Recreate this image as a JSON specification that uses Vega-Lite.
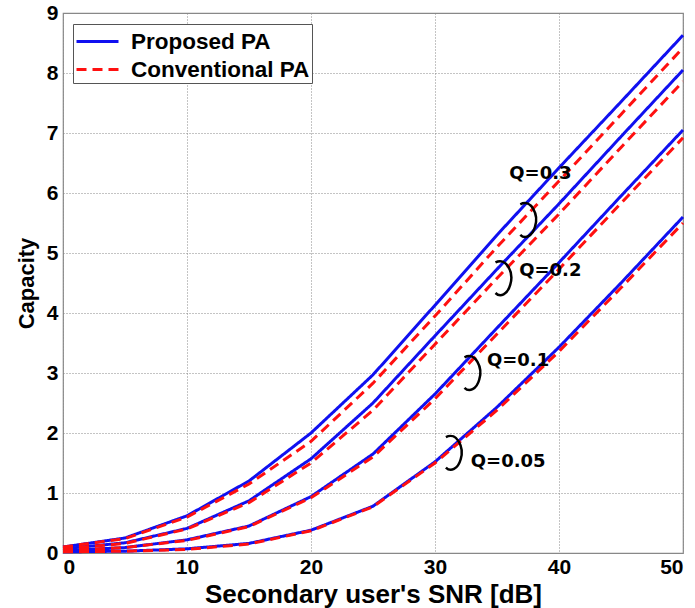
{
  "$schema": "https://vega.github.io/schema/vega-lite/v6.json",
  "width": 620,
  "height": 540,
  "autosize": {"type": "none"},
  "padding": {"left": 63, "top": 13, "right": 12, "bottom": 55},
  "background": "white",
  "config": {
    "view": {"stroke": "#888888", "strokeWidth": 1.2},
    "font": "Liberation Sans",
    "axis": {
      "grid": true,
      "gridColor": "#888888",
      "gridDash": [1, 2],
      "gridWidth": 1,
      "domain": false,
      "ticks": false,
      "labelFont": "Liberation Sans",
      "labelFontSize": 21,
      "labelFontWeight": "bold",
      "labelColor": "black",
      "titleFont": "Liberation Sans",
      "titleFontWeight": "bold",
      "titleColor": "black"
    },
    "legend": {
      "labelFont": "Liberation Sans",
      "labelFontSize": 22.5,
      "labelFontWeight": "bold",
      "labelColor": "black",
      "labelLimit": 400,
      "symbolType": "M -1.5 0 L 1.5 0",
      "symbolSize": 784,
      "symbolStrokeWidth": 3,
      "symbolOffset": 7,
      "strokeColor": "#555555",
      "fillColor": "white",
      "padding": 2,
      "rowPadding": 1,
      "labelOffset": 18
    }
  },
  "datasets": {
    "curves": [
      {"snr": 0, "cap": 0.10, "Q": "0.3", "method": "Proposed PA"},
      {"snr": 5, "cap": 0.25, "Q": "0.3", "method": "Proposed PA"},
      {"snr": 10, "cap": 0.62, "Q": "0.3", "method": "Proposed PA"},
      {"snr": 15, "cap": 1.20, "Q": "0.3", "method": "Proposed PA"},
      {"snr": 20, "cap": 2.00, "Q": "0.3", "method": "Proposed PA"},
      {"snr": 25, "cap": 2.97, "Q": "0.3", "method": "Proposed PA"},
      {"snr": 30, "cap": 4.13, "Q": "0.3", "method": "Proposed PA"},
      {"snr": 35, "cap": 5.30, "Q": "0.3", "method": "Proposed PA"},
      {"snr": 40, "cap": 6.42, "Q": "0.3", "method": "Proposed PA"},
      {"snr": 45, "cap": 7.52, "Q": "0.3", "method": "Proposed PA"},
      {"snr": 50, "cap": 8.63, "Q": "0.3", "method": "Proposed PA"},
      {"snr": 0, "cap": 0.10, "Q": "0.3", "method": "Conventional PA"},
      {"snr": 5, "cap": 0.24, "Q": "0.3", "method": "Conventional PA"},
      {"snr": 10, "cap": 0.60, "Q": "0.3", "method": "Conventional PA"},
      {"snr": 15, "cap": 1.15, "Q": "0.3", "method": "Conventional PA"},
      {"snr": 20, "cap": 1.86, "Q": "0.3", "method": "Conventional PA"},
      {"snr": 25, "cap": 2.83, "Q": "0.3", "method": "Conventional PA"},
      {"snr": 30, "cap": 3.95, "Q": "0.3", "method": "Conventional PA"},
      {"snr": 35, "cap": 5.10, "Q": "0.3", "method": "Conventional PA"},
      {"snr": 40, "cap": 6.20, "Q": "0.3", "method": "Conventional PA"},
      {"snr": 45, "cap": 7.31, "Q": "0.3", "method": "Conventional PA"},
      {"snr": 50, "cap": 8.42, "Q": "0.3", "method": "Conventional PA"},
      {"snr": 0, "cap": 0.07, "Q": "0.2", "method": "Proposed PA"},
      {"snr": 5, "cap": 0.17, "Q": "0.2", "method": "Proposed PA"},
      {"snr": 10, "cap": 0.41, "Q": "0.2", "method": "Proposed PA"},
      {"snr": 15, "cap": 0.87, "Q": "0.2", "method": "Proposed PA"},
      {"snr": 20, "cap": 1.57, "Q": "0.2", "method": "Proposed PA"},
      {"snr": 25, "cap": 2.50, "Q": "0.2", "method": "Proposed PA"},
      {"snr": 30, "cap": 3.62, "Q": "0.2", "method": "Proposed PA"},
      {"snr": 35, "cap": 4.73, "Q": "0.2", "method": "Proposed PA"},
      {"snr": 40, "cap": 5.82, "Q": "0.2", "method": "Proposed PA"},
      {"snr": 45, "cap": 6.94, "Q": "0.2", "method": "Proposed PA"},
      {"snr": 50, "cap": 8.05, "Q": "0.2", "method": "Proposed PA"},
      {"snr": 0, "cap": 0.07, "Q": "0.2", "method": "Conventional PA"},
      {"snr": 5, "cap": 0.16, "Q": "0.2", "method": "Conventional PA"},
      {"snr": 10, "cap": 0.40, "Q": "0.2", "method": "Conventional PA"},
      {"snr": 15, "cap": 0.84, "Q": "0.2", "method": "Conventional PA"},
      {"snr": 20, "cap": 1.50, "Q": "0.2", "method": "Conventional PA"},
      {"snr": 25, "cap": 2.38, "Q": "0.2", "method": "Conventional PA"},
      {"snr": 30, "cap": 3.48, "Q": "0.2", "method": "Conventional PA"},
      {"snr": 35, "cap": 4.58, "Q": "0.2", "method": "Conventional PA"},
      {"snr": 40, "cap": 5.65, "Q": "0.2", "method": "Conventional PA"},
      {"snr": 45, "cap": 6.76, "Q": "0.2", "method": "Conventional PA"},
      {"snr": 50, "cap": 7.86, "Q": "0.2", "method": "Conventional PA"},
      {"snr": 0, "cap": 0.04, "Q": "0.1", "method": "Proposed PA"},
      {"snr": 5, "cap": 0.09, "Q": "0.1", "method": "Proposed PA"},
      {"snr": 10, "cap": 0.22, "Q": "0.1", "method": "Proposed PA"},
      {"snr": 15, "cap": 0.45, "Q": "0.1", "method": "Proposed PA"},
      {"snr": 20, "cap": 0.94, "Q": "0.1", "method": "Proposed PA"},
      {"snr": 25, "cap": 1.65, "Q": "0.1", "method": "Proposed PA"},
      {"snr": 30, "cap": 2.65, "Q": "0.1", "method": "Proposed PA"},
      {"snr": 35, "cap": 3.75, "Q": "0.1", "method": "Proposed PA"},
      {"snr": 40, "cap": 4.84, "Q": "0.1", "method": "Proposed PA"},
      {"snr": 45, "cap": 5.95, "Q": "0.1", "method": "Proposed PA"},
      {"snr": 50, "cap": 7.05, "Q": "0.1", "method": "Proposed PA"},
      {"snr": 0, "cap": 0.04, "Q": "0.1", "method": "Conventional PA"},
      {"snr": 5, "cap": 0.09, "Q": "0.1", "method": "Conventional PA"},
      {"snr": 10, "cap": 0.21, "Q": "0.1", "method": "Conventional PA"},
      {"snr": 15, "cap": 0.44, "Q": "0.1", "method": "Conventional PA"},
      {"snr": 20, "cap": 0.92, "Q": "0.1", "method": "Conventional PA"},
      {"snr": 25, "cap": 1.60, "Q": "0.1", "method": "Conventional PA"},
      {"snr": 30, "cap": 2.57, "Q": "0.1", "method": "Conventional PA"},
      {"snr": 35, "cap": 3.65, "Q": "0.1", "method": "Conventional PA"},
      {"snr": 40, "cap": 4.73, "Q": "0.1", "method": "Conventional PA"},
      {"snr": 45, "cap": 5.83, "Q": "0.1", "method": "Conventional PA"},
      {"snr": 50, "cap": 6.92, "Q": "0.1", "method": "Conventional PA"},
      {"snr": 0, "cap": 0.02, "Q": "0.05", "method": "Proposed PA"},
      {"snr": 5, "cap": 0.03, "Q": "0.05", "method": "Proposed PA"},
      {"snr": 10, "cap": 0.07, "Q": "0.05", "method": "Proposed PA"},
      {"snr": 15, "cap": 0.16, "Q": "0.05", "method": "Proposed PA"},
      {"snr": 20, "cap": 0.38, "Q": "0.05", "method": "Proposed PA"},
      {"snr": 25, "cap": 0.78, "Q": "0.05", "method": "Proposed PA"},
      {"snr": 30, "cap": 1.52, "Q": "0.05", "method": "Proposed PA"},
      {"snr": 35, "cap": 2.43, "Q": "0.05", "method": "Proposed PA"},
      {"snr": 40, "cap": 3.43, "Q": "0.05", "method": "Proposed PA"},
      {"snr": 45, "cap": 4.50, "Q": "0.05", "method": "Proposed PA"},
      {"snr": 50, "cap": 5.60, "Q": "0.05", "method": "Proposed PA"},
      {"snr": 0, "cap": 0.02, "Q": "0.05", "method": "Conventional PA"},
      {"snr": 5, "cap": 0.03, "Q": "0.05", "method": "Conventional PA"},
      {"snr": 10, "cap": 0.06, "Q": "0.05", "method": "Conventional PA"},
      {"snr": 15, "cap": 0.15, "Q": "0.05", "method": "Conventional PA"},
      {"snr": 20, "cap": 0.37, "Q": "0.05", "method": "Conventional PA"},
      {"snr": 25, "cap": 0.77, "Q": "0.05", "method": "Conventional PA"},
      {"snr": 30, "cap": 1.50, "Q": "0.05", "method": "Conventional PA"},
      {"snr": 35, "cap": 2.38, "Q": "0.05", "method": "Conventional PA"},
      {"snr": 40, "cap": 3.36, "Q": "0.05", "method": "Conventional PA"},
      {"snr": 45, "cap": 4.42, "Q": "0.05", "method": "Conventional PA"},
      {"snr": 50, "cap": 5.50, "Q": "0.05", "method": "Conventional PA"}
    ],
    "labels": [
      {"lx": 38.5, "ly": 6.32, "text": "Q=0.3", "ax": 37.4, "ay": 5.55},
      {"lx": 39.3, "ly": 4.7, "text": "Q=0.2", "ax": 35.4, "ay": 4.58},
      {"lx": 36.7, "ly": 3.2, "text": "Q=0.1", "ax": 32.9, "ay": 3.0},
      {"lx": 35.9, "ly": 1.52, "text": "Q=0.05", "ax": 31.4, "ay": 1.67}
    ]
  },
  "layer": [
    {
      "data": {"name": "curves"},
      "transform": [{"filter": "datum.method === 'Proposed PA'"}],
      "mark": {"type": "line", "strokeWidth": 3},
      "encoding": {
        "x": {"field": "snr", "type": "quantitative", "scale": {"domain": [0, 50]},
              "axis": {"values": [0, 10, 20, 30, 40, 50], "format": "d", "labelPadding": 3, "titlePadding": 4, "titleFontSize": 26},
              "title": "Secondary user's SNR [dB]"},
        "y": {"field": "cap", "type": "quantitative", "scale": {"domain": [0, 9]},
              "axis": {"values": [0, 1, 2, 3, 4, 5, 6, 7, 8, 9], "format": "d", "labelPadding": 5, "titlePadding": 8, "titleFontSize": 22},
              "title": "Capacity"},
        "detail": {"field": "Q"},
        "color": {"field": "method", "type": "nominal",
                  "scale": {"domain": ["Proposed PA", "Conventional PA"], "range": ["#1010f0", "#ff1010"]},
                  "legend": {"title": null, "orient": "none", "legendX": 10, "legendY": 11}},
        "strokeDash": {"field": "method", "type": "nominal",
                  "scale": {"domain": ["Proposed PA", "Conventional PA"], "range": [[1, 0], [10, 6]]},
                  "legend": {"title": null, "orient": "none", "legendX": 10, "legendY": 11}}
      }
    },
    {
      "data": {"name": "curves"},
      "transform": [{"filter": "datum.method === 'Conventional PA'"}],
      "mark": {"type": "line", "strokeWidth": 3},
      "encoding": {
        "x": {"field": "snr", "type": "quantitative"},
        "y": {"field": "cap", "type": "quantitative"},
        "detail": {"field": "Q"},
        "color": {"field": "method", "type": "nominal"},
        "strokeDash": {"field": "method", "type": "nominal"}
      }
    },
    {
      "data": {"name": "labels"},
      "mark": {"type": "text", "font": "DejaVu Sans", "fontSize": 18, "fontWeight": "bold", "color": "black", "align": "center", "baseline": "middle"},
      "encoding": {
        "x": {"field": "lx", "type": "quantitative"},
        "y": {"field": "ly", "type": "quantitative"},
        "text": {"field": "text"}
      }
    },
    {
      "data": {"name": "labels"},
      "mark": {"type": "point", "shape": "M -0.35 -0.85 C 0.25 -1.15 0.65 -0.3 0.45 0.35 C 0.3 0.9 -0.1 1.05 -0.35 0.8", "filled": false, "stroke": "black", "strokeWidth": 2.5, "size": 1369, "opacity": 1},
      "encoding": {
        "x": {"field": "ax", "type": "quantitative"},
        "y": {"field": "ay", "type": "quantitative"}
      }
    }
  ]
}
